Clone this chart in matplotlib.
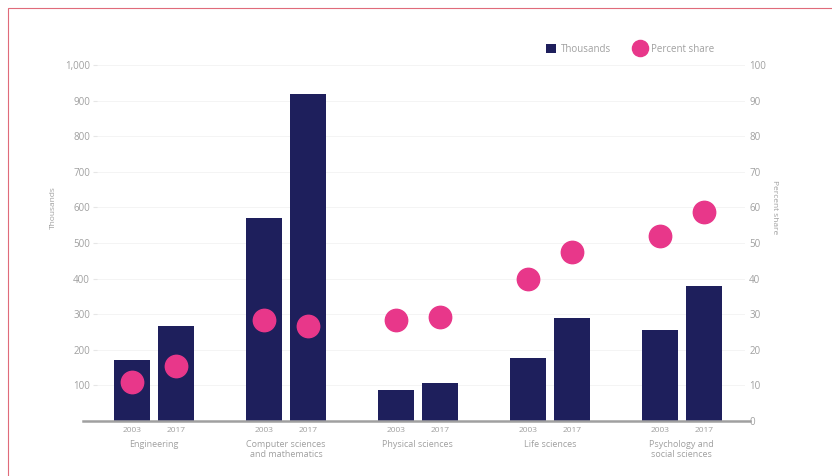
import matplotlib.pyplot as plt
import numpy as np

plt.rcParams['font.family'] = ['Open Sans', 'DejaVu Sans']

fields = ['Engineering', 'Computer sciences\nand mathematics', 'Physical sciences',
          'Life sciences', 'Psychology and\nsocial sciences']
years = ['2003', '2017']
thousands_2003 = [170, 570, 88, 177, 257]
thousands_2017 = [268, 918, 106, 290, 379]
share_2003 = [10.9, 28.4, 28.4, 40.0, 52.0]
share_2017 = [15.4, 26.7, 29.2, 47.4, 58.8]

navy = '#1e1f5c'
pink = '#e8378a'
grey = '#a0a0a0'

fig = plt.figure(figsize=(8.32, 4.76), dpi=100)
fig.patches.append(plt.Rectangle((0.010, -0.1), 1.2, 1.083, transform=fig.transFigure,
                                 fill=False, edgecolor='#e06b7a', linewidth=0.8))
ax = fig.add_axes([97 / 832, 55 / 476, 648 / 832, 356 / 476])
ax2 = ax.twinx()

x = np.arange(len(fields))
off = 0.167
w = 0.272
ax.bar(x - off, thousands_2003, w, color=navy, zorder=3, label='Thousands')
ax.bar(x + off, thousands_2017, w, color=navy, zorder=3)
ax2.scatter(x - off, share_2003, s=260, color=pink, zorder=4, label='Percent share')
ax2.scatter(x + off, share_2017, s=260, color=pink, zorder=4)

ax.set_xlim(-0.432, 4.48)
ax.set_ylim(0, 1000)
ax2.set_ylim(0, 100)
ax.set_yticks(range(100, 1001, 100))
ax.set_yticklabels([f'{v:,}' for v in range(100, 1001, 100)])
ax2.set_yticks(range(0, 101, 10))
ax.grid(axis='y', color='#f2f2f2', linewidth=0.6, zorder=0)

for a in (ax, ax2):
    for s in a.spines.values():
        s.set_visible(False)
    a.tick_params(axis='y', colors=grey, labelsize=7, length=3, color='#e6e6e6', pad=2)
ax2.tick_params(axis='y', length=0, pad=3)
ax.plot([-0.022, 1.008], [0, 0], transform=ax.transAxes, color='#a0a0a0',
        linewidth=1.8, zorder=5, clip_on=False)

ax.set_xticks(np.concatenate([x - off, x + off]))
ax.set_xticklabels(years[:1] * len(x) + years[1:] * len(x))
ax.tick_params(axis='x', colors=grey, labelsize=6, length=0, pad=4)
for i, f in enumerate(fields):
    ax.text(i, -0.052, f, transform=ax.get_xaxis_transform(), ha='center', va='top',
            fontsize=6.5, color=grey, linespacing=1.2)

ax.set_ylabel('Thousands', color=grey, fontsize=6)
ax.yaxis.set_label_coords(-0.062, 0.60)
ax2.set_ylabel('Percent share', color=grey, fontsize=6, rotation=270, va='center')
ax2.yaxis.set_label_coords(1.046, 0.60)

h1, l1 = ax.get_legend_handles_labels()
h2, l2 = ax2.get_legend_handles_labels()
leg = fig.legend(h1 + h2, l1 + l2, loc='center left', bbox_to_anchor=(541 / 832, 1 - 49 / 476),
                 ncol=2, frameon=False, fontsize=7, labelcolor=grey, borderpad=0,
                 handlelength=1.0, handleheight=1.0, handletextpad=0.6,
                 columnspacing=2.4, markerscale=0.72)

fig.savefig('out.png', dpi=100)
